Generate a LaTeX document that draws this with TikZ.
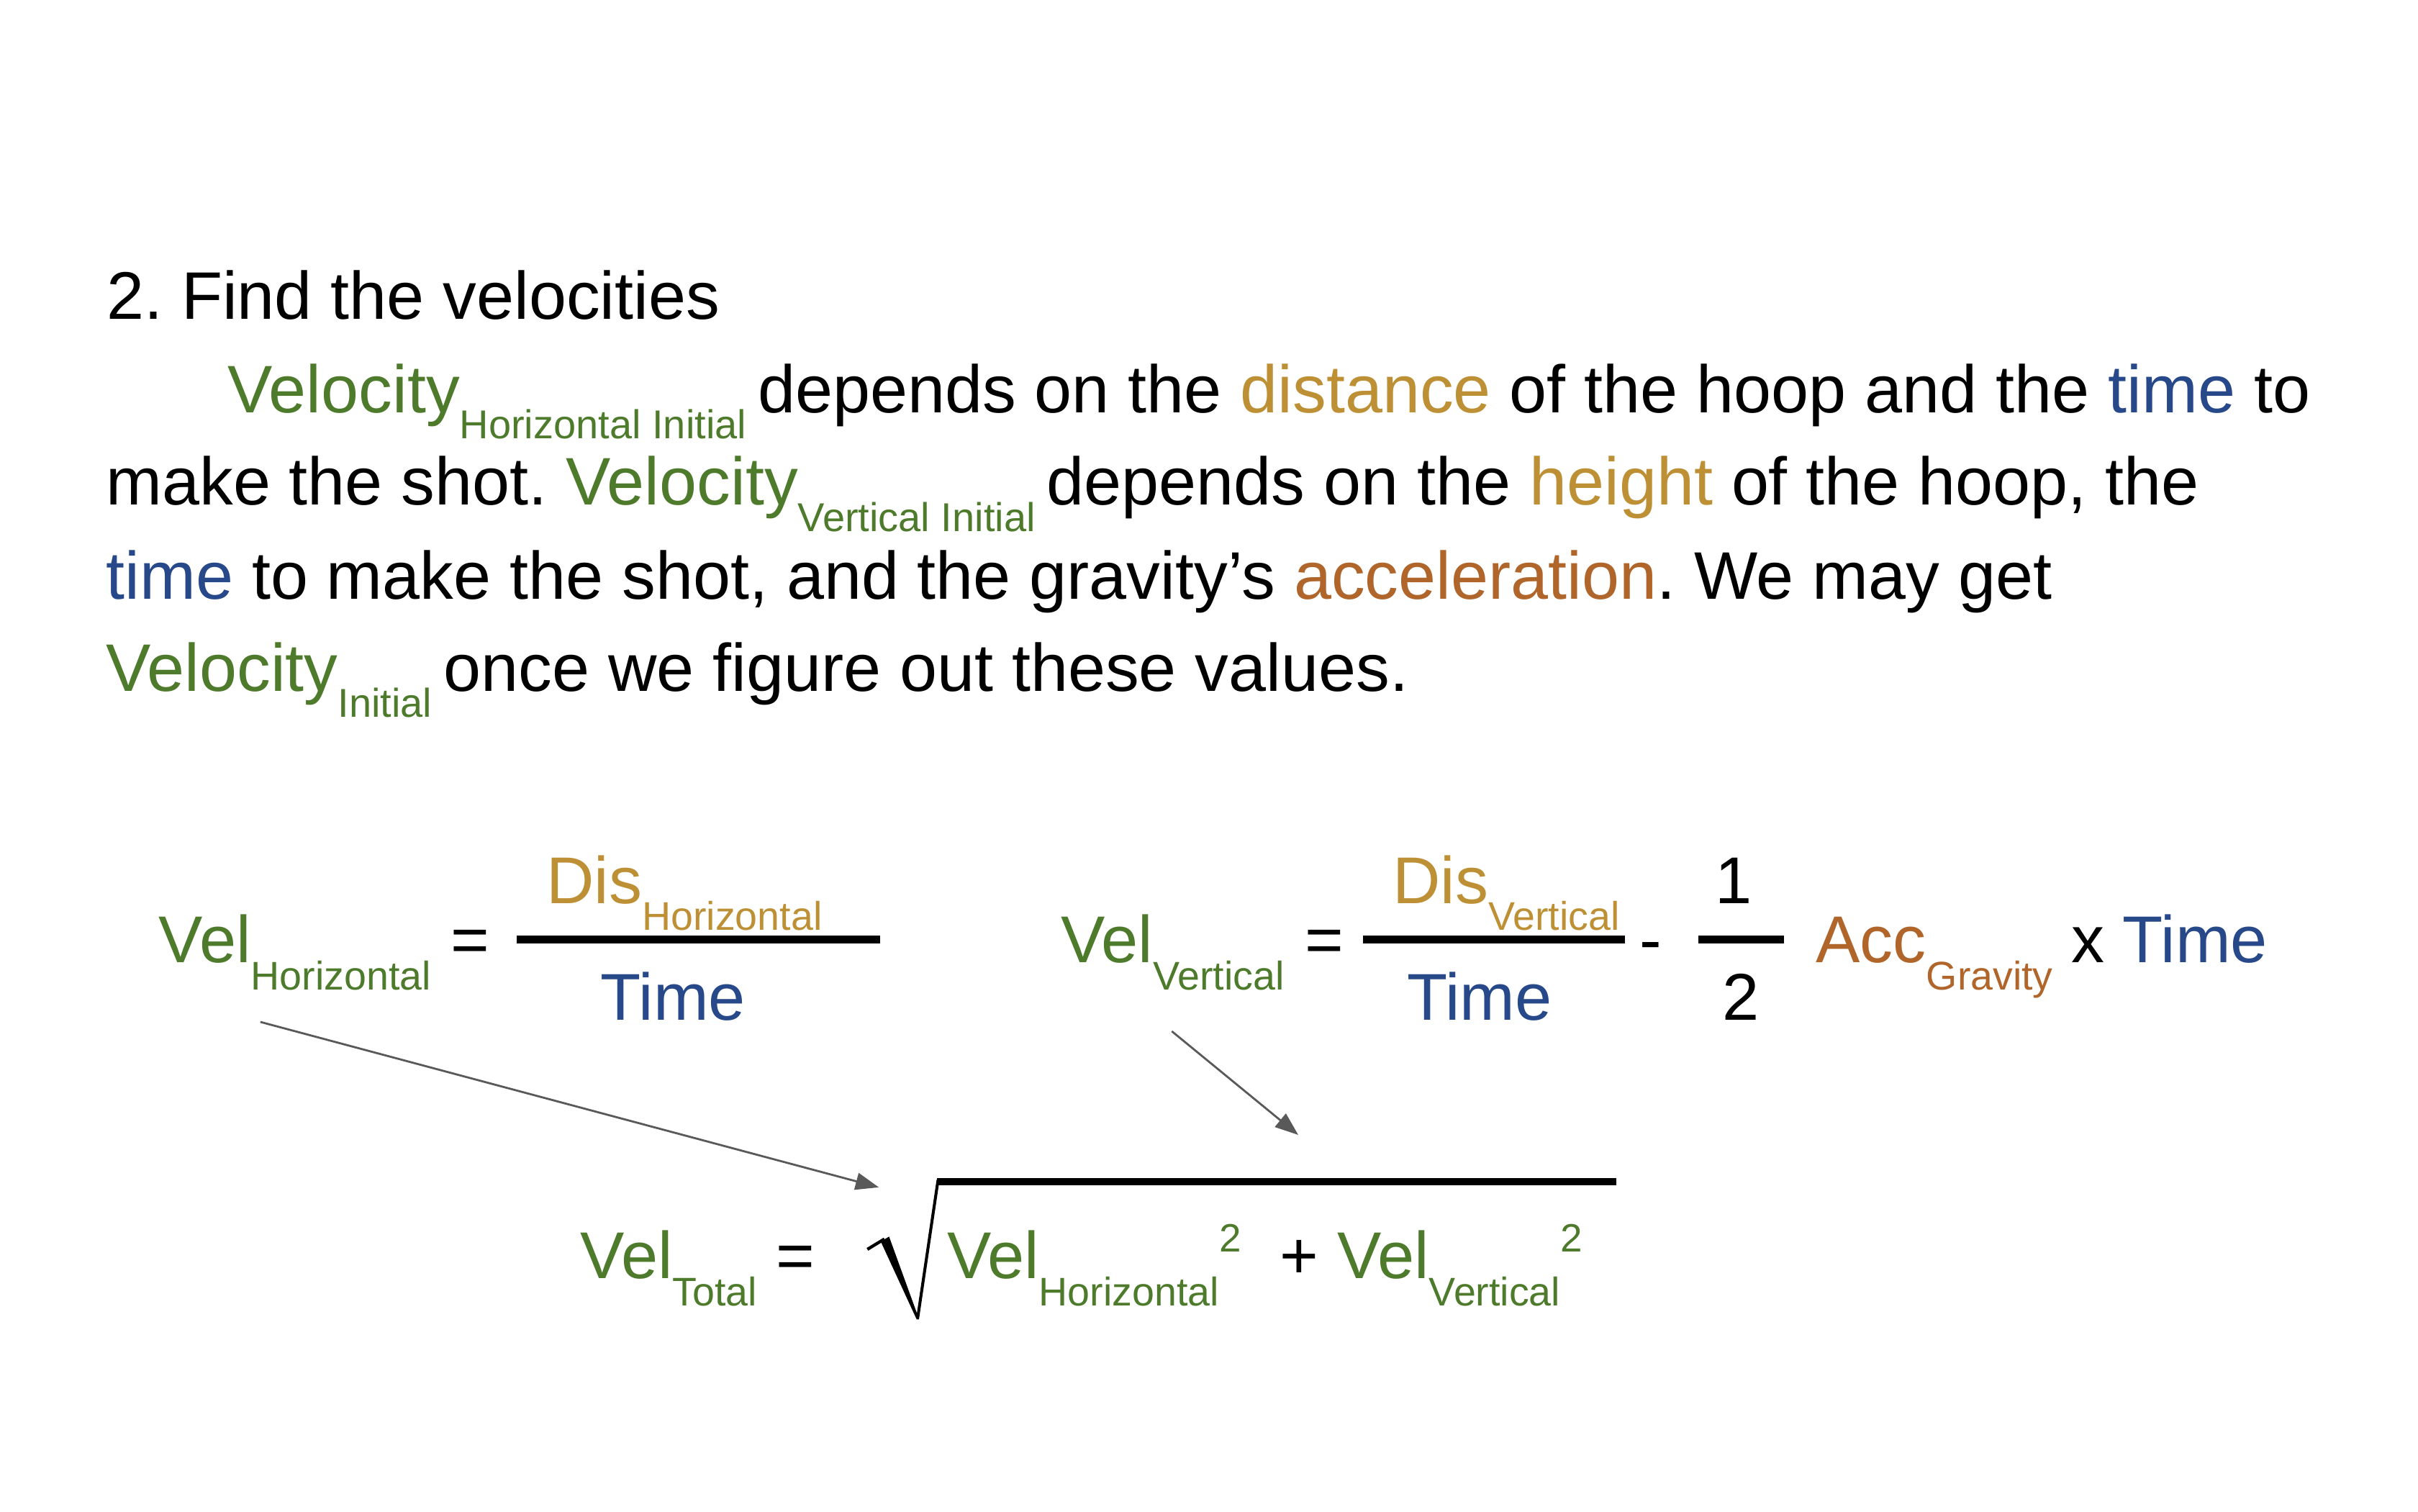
\documentclass[tikz,border=0pt]{standalone}
\usepackage{fontspec}
\setmainfont{Liberation Sans}
\usetikzlibrary{arrows.meta}
\definecolor{vgreen}{HTML}{4D7A2B}
\definecolor{vgold}{HTML}{BE9035}
\definecolor{vblue}{HTML}{27498A}
\definecolor{vorange}{HTML}{B0652A}
\definecolor{arrowgray}{HTML}{595959}
\newcommand\bodyfont{\fontsize{43.4}{52}\selectfont\frenchspacing}
\newcommand\eqfont{\fontsize{42.7}{51}\selectfont\frenchspacing}
\newcommand\lsub[1]{\raisebox{-16.8pt}{\fontsize{26}{26}\selectfont #1}}
\newcommand\esub[1]{\raisebox{-17.2pt}{\fontsize{25.8}{26}\selectfont #1}}
\newcommand\esup[1]{\raisebox{17.6pt}{\fontsize{25.5}{26}\selectfont #1}}
\begin{document}
\begin{tikzpicture}[x=1pt,y=-1pt,
  body/.style={inner sep=0pt,outer sep=0pt,anchor=base west,font=\bodyfont},
  eq/.style={inner sep=0pt,outer sep=0pt,anchor=base west,font=\eqfont},
  fracbar/.style={line width=5pt},
  conn/.style={draw=arrowgray,line width=1.3pt,-{Triangle[length=15pt,width=11pt]}}]
\useasboundingbox (0,0) rectangle (1560,975);
% ---- paragraph ----
\node[body] (title) at (68.8,206) {2. Find the velocities};
\node[body] (l2) at (147,266.1) {{\color{vgreen}Velocity\lsub{Horizontal Initial}}\hspace{7.5pt}depends on the {\color{vgold}distance} of the hoop and the {\color{vblue}time} to};
\node[body] (l3) at (68.5,325.9) {make the shot. {\color{vgreen}Velocity\lsub{Vertical Initial}}\hspace{7.5pt}depends on the {\color{vgold}height} of the hoop, the};
\node[body] (l4) at (68.5,386.3) {{\color{vblue}time} to make the shot, and the gravity’s {\color{vorange}acceleration}. We may get};
\node[body] (l5) at (68.5,445.8) {{\color{vgreen}Velocity\lsub{Initial}}\hspace{7.5pt}once we figure out these values.};
% ---- horizontal velocity ----
\node[eq,text=vgreen] (velH) at (102.6,621.2) {Vel\esub{Horizontal}};
\node[eq] (eqH) at (291,621.2) {=};
\draw[fracbar] (333.4,606) -- (567.9,606);
\node[eq,text=vgold] (disH) at (352.6,582.7) {Dis\esub{Horizontal}};
\node[eq,text=vblue] (timeH) at (387.6,657.9) {Time};
% ---- vertical velocity ----
\node[eq,text=vgreen] (velV) at (684.6,621.2) {Vel\esub{Vertical}};
\node[eq] (eqV) at (842,621.2) {=};
\draw[fracbar] (879.4,606) -- (1048.4,606);
\node[eq,text=vgold] (disV) at (898.6,582.7) {Dis\esub{Vertical}};
\node[eq,text=vblue] (timeV) at (908,657.9) {Time};
\node[eq] (minus) at (1058,621.2) {-};
\draw[fracbar] (1095.7,606) -- (1151,606);
\node[eq] (one) at (1106.4,582.7) {1};
\node[eq] (two) at (1111.3,657.9) {2};
\node[eq] (acc) at (1171.6,621.2) {{\color{vorange}Acc\esub{Gravity}} x {\color{vblue}Time}};
% ---- total velocity ----
\node[eq,text=vgreen] (velT) at (374.6,825) {Vel\esub{Total}};
\node[eq] (eqT) at (500.8,825) {=};
\draw[line width=2pt] (559.6,806) -- (570.6,799.3);
\fill (568.2,800.9) -- (573.6,797.8) -- (593.0,851.2) -- (591.4,851.2) -- cycle;
\draw[line width=1.9pt] (592.0,850.6) -- (605.2,761.2);
\draw[line width=4.6pt] (604.4,762.4) -- (1042.6,762.4);
\node[eq,text=vgreen] (velTH) at (611,825) {Vel\esub{Horizontal}\esup{2}};
\node[eq] (plus) at (825.9,825) {+};
\node[eq,text=vgreen] (velTV) at (862.7,825) {Vel\esub{Vertical}\esup{2}};
% ---- arrows ----
\coordinate (a1s) at (168,659.3);
\coordinate (a1e) at (567,766);
\coordinate (a2s) at (756,665.3);
\coordinate (a2e) at (837.6,732.2);
\draw[conn] (a1s) -- (a1e);
\draw[conn] (a2s) -- (a2e);
\end{tikzpicture}
\end{document}
